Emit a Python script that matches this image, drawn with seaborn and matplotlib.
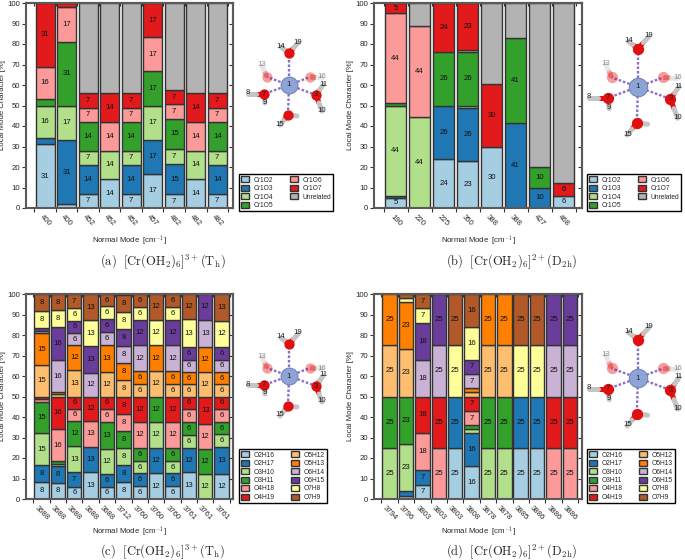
import matplotlib
matplotlib.use("Agg")
import matplotlib.pyplot as plt
from matplotlib.patches import Patch
import pandas as pd
import seaborn as sns

W, H = 685, 560

# --- data: one row per normal mode, one column per local mode ---
a_modes = ["400", "400", "452", "452", "452", "457", "482", "482", "482"]
a_series = ["Cr1O2", "Cr1O3", "Cr1O4", "Cr1O5", "Cr1O6", "Cr1O7", "Unrelated"]
a_values = [
    [31, 3, 16, 3, 16, 31, 0],
    [2, 31, 17, 31, 17, 2, 0],
    [7, 14, 7, 14, 7, 7, 44],
    [14, 0, 14, 0, 14, 14, 44],
    [7, 14, 7, 14, 7, 7, 44],
    [16.6, 16.6, 16.8, 16.6, 16.6, 16.8, 0],
    [6.6, 15, 7, 15, 7, 7, 42.4],
    [14, 0, 14, 0, 14, 14, 44],
    [7, 14, 7, 14, 7, 7, 44],
]

b_modes = ["190", "220", "225", "350", "388", "388", "427", "468"]
b_series = ["Cr1O2", "Cr1O3", "Cr1O4", "Cr1O5", "Cr1O6", "Cr1O7", "Unrelated"]
b_values = [
    [5, 1, 44, 1, 44, 5, 0],
    [0, 0, 44.4, 0, 44.4, 0, 11.2],
    [24, 26, 0, 26, 0, 24, 0],
    [23, 26, 1, 26, 1, 23, 0],
    [30, 0, 0, 0, 0, 30.4, 39.6],
    [0, 41.4, 0, 41.4, 0, 0, 17.2],
    [0, 10, 0, 10, 0, 0, 80],
    [6, 0, 0, 0, 0, 6, 88],
]

c_modes = ["3688", "3688", "3688", "3688", "3688", "3712",
           "3760", "3760", "3760", "3761", "3761", "3761"]
oh_series = ["O2H16", "O2H17", "O3H10", "O3H11", "O4H18", "O4H19",
             "O5H12", "O5H13", "O6H14", "O6H15", "O7H8", "O7H9"]
c_values = [
    [8.3, 8.3, 15.4, 15.4, 1.3, 1.3, 15.4, 15.4, 1.2, 1.2, 8.4, 8.4],
    [8, 8, 1, 1.3, 15.7, 16, 1, 1, 16, 16, 8, 8],
    [6, 7, 13, 12, 6, 6, 13, 12, 6, 6, 6, 7],
    [13, 12.6, 0, 0, 12.6, 11.8, 0, 0, 11.6, 13, 12.6, 12.8],
    [6, 6.3, 12.2, 13, 6.5, 6, 12, 13, 6.5, 6.5, 6, 6],
    [8.3, 8.3, 8.3, 8.3, 8.3, 8.5, 8.2, 8.3, 8.3, 8.3, 8.3, 8.3],
    [6.3, 6.2, 6.2, 6.3, 12.5, 12.5, 6.2, 6.3, 12.5, 12.5, 6.2, 6.3],
    [12.5, 12.5, 12.5, 12.5, 0, 0, 12.5, 12.5, 0, 0, 12.5, 12.5],
    [6.3, 6.2, 6.2, 6.3, 12.5, 12.5, 6.2, 6.3, 12.5, 12.5, 6.2, 6.3],
    [13, 12, 6.3, 6.2, 6.2, 6.3, 6, 6, 6, 6.3, 13.3, 12.4],
    [0, 0, 12.1, 12.5, 12, 13.4, 12.1, 12, 13.4, 12.5, 0, 0],
    [12, 13.3, 6.2, 6, 6.5, 6, 6, 6, 6, 6.3, 12.4, 13.3],
]

d_modes = ["3794", "3796", "3803", "3803", "3803", "3808",
           "3878", "3878", "3885", "3886", "3886", "3886"]
d_values = [
    [0, 0, 25, 25, 0, 0, 25, 25, 0, 0, 0, 0],
    [1.5, 2.5, 23, 23, 0, 0, 23, 23, 0, 0, 2, 2],
    [7, 7, 0, 0, 18, 18, 0, 0, 18, 18, 7, 7],
    [0, 0, 0, 0, 25, 25, 0, 0, 25, 25, 0, 0],
    [25, 25, 0, 0, 0, 0, 0, 0, 0, 0, 25, 25],
    [16, 16, 2, 2, 7, 7, 2, 2, 7, 7, 16, 16],
    [0, 0, 25, 25, 0, 0, 25, 25, 0, 0, 0, 0],
    [0, 0, 25, 25, 0, 0, 25, 25, 0, 0, 0, 0],
    [25, 25, 0, 0, 0, 0, 0, 0, 0, 0, 25, 25],
    [25, 25, 0, 0, 0, 0, 0, 0, 0, 0, 25, 25],
    [0, 0, 0, 0, 25, 25, 0, 0, 25, 25, 0, 0],
    [0, 0, 0, 0, 25, 25, 0, 0, 25, 25, 0, 0],
]

y_ticks = list(range(0, 101, 10))

# water ligands around Cr, offsets from the metal in pixels
oxygens = [(0, -32), (-22, -8), (21, -8), (-25, 9), (27, 10), (-1, 30)]
oxygen_labels = ["", "", "", "7", "3", ""]
oxygen_pale = [False, True, True, False, False, False]
hydrogens = [
    [(-8, -38), (9, -42)],
    [(-27, -19)],
    [(33, -7)],
    [(-41, 9), (-24, 18)],
    [(34, 0), (33, 26)],
    [(-9, 40), (8, 31)],
]
hydrogen_labels = [["14", "19"], ["13"], ["16"], ["8", "9"], ["11", "10"], ["15", ""]]

sns.set_theme(style="ticks")
plt.rcParams["font.family"] = ["Liberation Sans", "DejaVu Sans"]
plt.rcParams["mathtext.fontset"] = "cm"

paired = sns.color_palette("Paired", 12)
cr_colors = [paired[0], paired[1], paired[2], paired[3], paired[4], paired[5], "#b3b3b3"]
EDGE = "#333333"
SPINE = "#5a5a5a"
FS = 5.6


def add_panel(fig, rect, xlim, modes, series, values, colors, legend_pos):
    left, top, right, bottom = rect
    ax = fig.add_axes([left / W, 1 - bottom / H, (right - left) / W, (bottom - top) / H])

    df = pd.DataFrame(values, columns=series)
    df["pos"] = range(len(modes))
    positions = list(range(len(modes)))
    base = [0.0] * len(modes)
    for name, color in zip(series, colors):
        part = df[df[name] > 0]
        sns.barplot(data=part, x="pos", y=name, order=positions, color=color,
                    saturation=1, width=0.88, errorbar=None, edgecolor=EDGE,
                    linewidth=1, bottom=[base[i] for i in part["pos"]], ax=ax)
        # the grey remainder carries no number
        if name != "Unrelated":
            labels = [f"{v:.0f}" if v >= 5 else "" for v in part[name]]
            ax.bar_label(ax.containers[-1], labels=labels, label_type="center",
                         fontsize=FS, color="#111111")
        for i, v in zip(part["pos"], part[name]):
            base[i] += v

    ax.set_xlim(*xlim)
    ax.set_ylim(0, 100)
    ax.set_yticks(y_ticks)
    ax.tick_params(axis="y", labelsize=FS, length=3, width=0.8, pad=1, color=EDGE)

    # ticks sit between the bars, labels under the bars
    edges = [p - 0.5 for p in positions] + [positions[-1] + 0.5]
    ax.set_xticks(edges)
    ax.set_xticklabels([])
    ax.set_xticks(positions, minor=True)
    ax.set_xticklabels(modes, minor=True, rotation=-45, ha="center", va="top",
                       rotation_mode="default", fontsize=FS)
    ax.tick_params(axis="x", which="major", length=3, width=0.8, color=EDGE)
    ax.tick_params(axis="x", which="minor", length=0, pad=4)

    top_ax = ax.secondary_xaxis("top")
    top_ax.set_xticks(edges)
    top_ax.set_xticklabels([])
    top_ax.tick_params(direction="in", length=2, width=0.8, color=EDGE)
    right_ax = ax.secondary_yaxis("right")
    right_ax.set_yticks(y_ticks)
    right_ax.set_yticklabels([])
    right_ax.tick_params(direction="in", length=3, width=0.8, color=EDGE)
    for a in (top_ax, right_ax):
        for s in a.spines.values():
            s.set_color(SPINE)
            s.set_linewidth(1.5)
    for s in ax.spines.values():
        s.set_visible(True)
        s.set_color(SPINE)
        s.set_linewidth(1.5)

    ax.set_xlabel("Normal Mode  [cm$^{-1}$]", fontsize=FS)
    ax.xaxis.set_label_coords(0.5, -25 / (bottom - top))
    ax.set_ylabel("Local Mode Character [%]", fontsize=FS, labelpad=2)
    ax.yaxis.set_label_coords(-20 / (right - left), 0.5)

    handles = [Patch(facecolor=c, edgecolor=EDGE, linewidth=1) for c in colors]
    leg = ax.legend(handles, series, ncol=2, fontsize=4.8, loc="upper left",
                    bbox_to_anchor=(legend_pos[0] / W, 1 - legend_pos[1] / H),
                    bbox_transform=fig.transFigure,
                    frameon=True, fancybox=False, borderpad=0.35, borderaxespad=0,
                    handlelength=1.2, handleheight=1.0, handletextpad=0.7,
                    columnspacing=2.4, labelspacing=0.18)
    leg.get_frame().set_edgecolor("black")
    leg.get_frame().set_linewidth(1)
    leg.get_frame().set_alpha(1)
    return ax


def draw_molecule(ov, cx, cy, scale):
    for k, (ox, oy) in enumerate(oxygens):
        alpha = 0.4 if oxygen_pale[k] else 1
        px, py = cx + ox * scale, cy + oy * scale
        ov.plot([cx, px], [cy, py], ls=(0, (1.1, 0.8)), color="#8a70cc", lw=1.7, zorder=1)
        for (hx, hy), lab in zip(hydrogens[k], hydrogen_labels[k]):
            qx, qy = cx + hx * scale, cy + hy * scale
            mx, my = (px + qx) / 2, (py + qy) / 2
            ov.plot([px, mx], [py, my], color="#e01010", lw=3.6, alpha=alpha,
                    solid_capstyle="butt", zorder=2)
            ov.plot([mx, qx], [my, qy], color="#c4c4c4", lw=3.6, alpha=alpha,
                    solid_capstyle="round", zorder=2)
            if lab:
                ov.text(qx, qy - 1, lab, fontsize=FS, ha="center", va="center",
                        color="#222222", alpha=0.5 if oxygen_pale[k] else 1, zorder=5)
        ov.scatter([px], [py], s=55 * scale, color="#e01010", alpha=alpha,
                   linewidths=0, zorder=3)
        if oxygen_labels[k]:
            ov.text(px, py, oxygen_labels[k], fontsize=FS, ha="center", va="center",
                    color="#222222", zorder=5)
    ov.scatter([cx], [cy], s=150 * scale, color="#8ea3d6", edgecolors="#6478aa",
               linewidths=0.6, zorder=4)
    ov.text(cx, cy, "1", fontsize=FS, ha="center", va="center", color="#222222", zorder=5)


fig = plt.figure(figsize=(W / 100, H / 100), dpi=100)

add_panel(fig, (26, 3, 233, 208), (-0.887, 8.73), a_modes, a_series, a_values,
          cr_colors, (239, 174))
add_panel(fig, (374, 3, 582, 208), (-0.90, 7.76), b_modes, b_series, b_values,
          cr_colors, (587, 174))
add_panel(fig, (26, 294, 233, 499), (-0.95, 11.70), c_modes, oh_series, c_values,
          paired, (239, 449))
add_panel(fig, (374, 294, 582, 499), (-0.95, 11.74), d_modes, oh_series, d_values,
          paired, (587, 449))

# overlay in pixel units for the molecules and the sub-captions
ov = fig.add_axes([0, 0, 1, 1], facecolor="none")
ov.set_xlim(0, W)
ov.set_ylim(H, 0)
ov.axis("off")
draw_molecule(ov, 289, 85, 1.0)
draw_molecule(ov, 638, 87, 1.2)
draw_molecule(ov, 289, 376, 1.0)
draw_molecule(ov, 638, 378, 1.2)

captions = [
    (163, 265, r"$\mathrm{(a)}\ \ [\mathrm{Cr(OH_2)_6}]^{3+}(\mathrm{T_h})$"),
    (512, 265, r"$\mathrm{(b)}\ \ [\mathrm{Cr(OH_2)_6}]^{2+}(\mathrm{D_{2h}})$"),
    (163, 555, r"$\mathrm{(c)}\ \ [\mathrm{Cr(OH_2)_6}]^{3+}(\mathrm{T_h})$"),
    (512, 555, r"$\mathrm{(d)}\ \ [\mathrm{Cr(OH_2)_6}]^{2+}(\mathrm{D_{2h}})$"),
]
for x, y, s in captions:
    ov.text(x, y, s, fontsize=9, ha="center", va="baseline")

fig.savefig("out.png", dpi=100)
